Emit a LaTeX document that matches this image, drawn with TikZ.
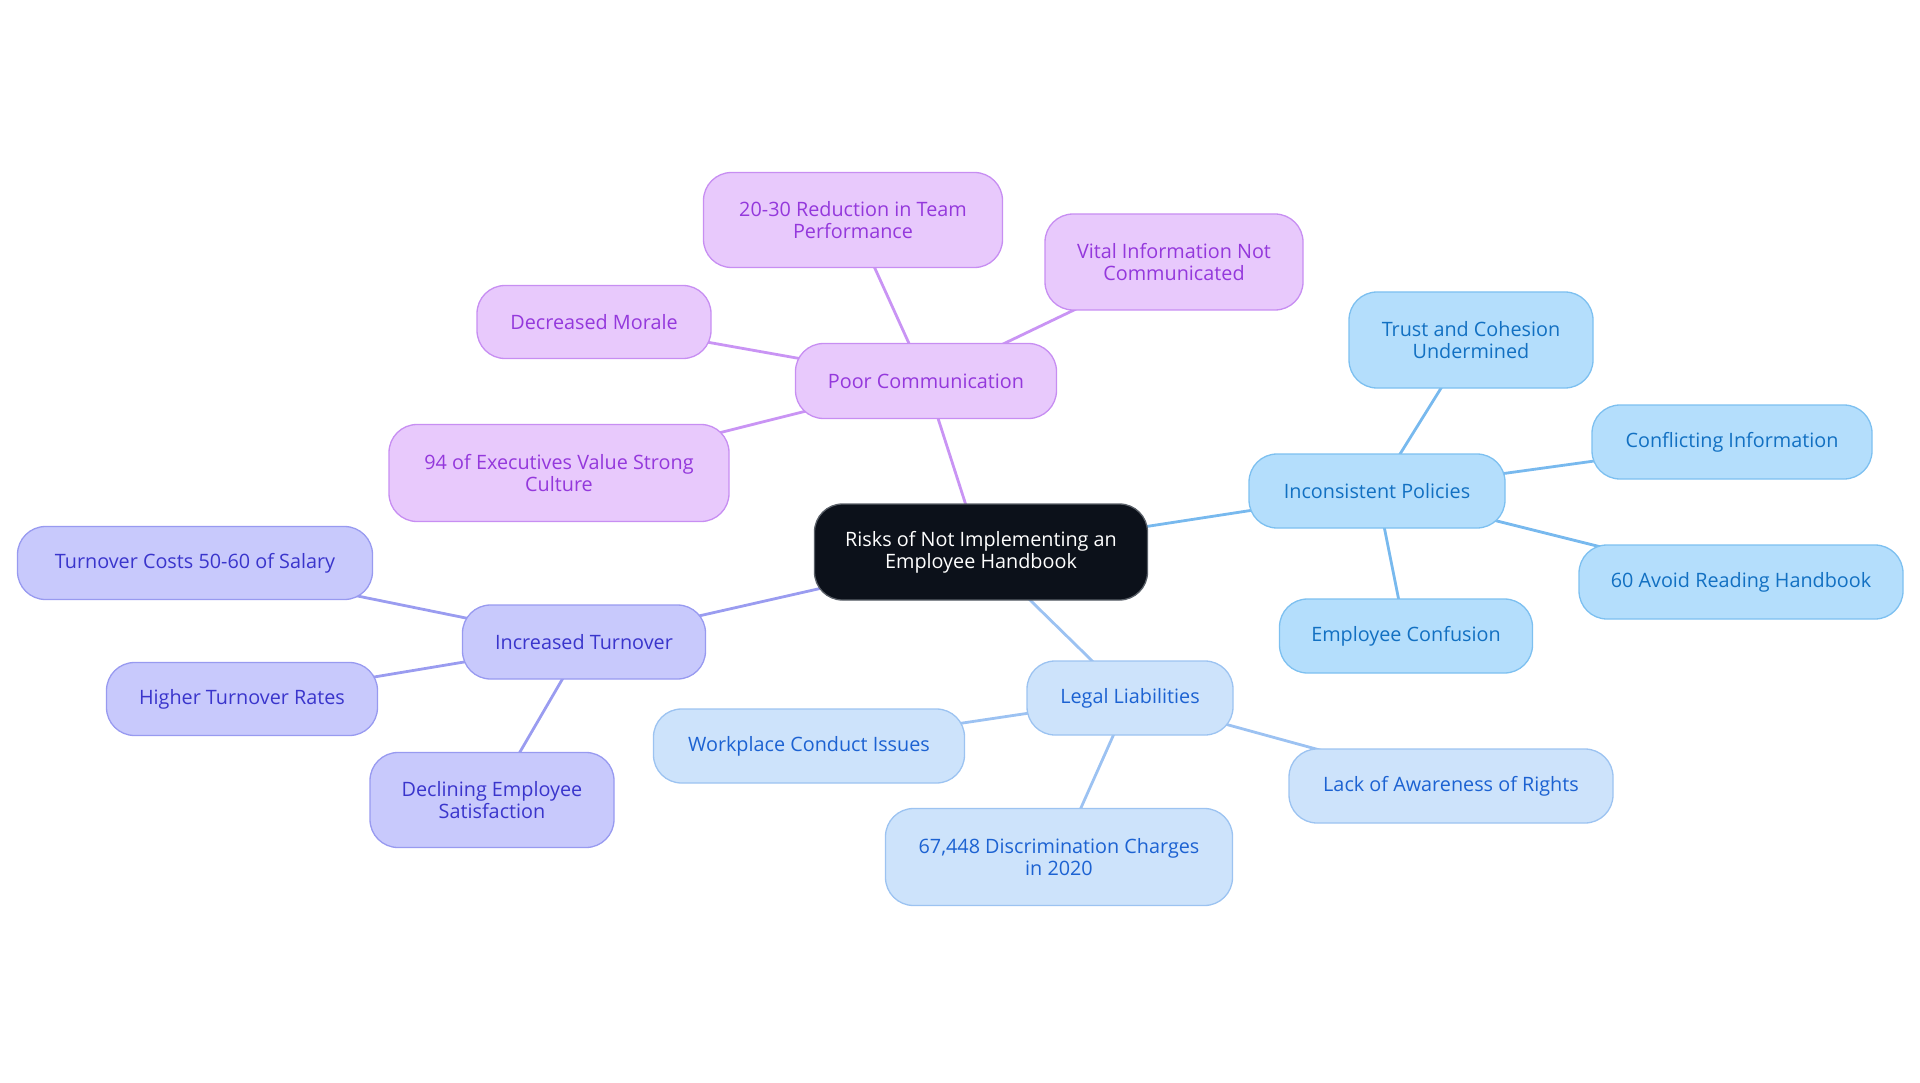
\documentclass[tikz,border=0pt]{standalone}
\usepackage{fontspec}
\setmainfont{Open Sans}
\usetikzlibrary{backgrounds}
\definecolor{rootfill}{HTML}{0C111A}
\definecolor{rootdraw}{HTML}{5A6068}
\definecolor{pfill}{HTML}{E8C9FC}
\definecolor{pdraw}{HTML}{C78EF2}
\definecolor{ptext}{HTML}{9438DC}
\definecolor{pline}{HTML}{C994F4}
\definecolor{ifill}{HTML}{C8C9FC}
\definecolor{idraw}{HTML}{989AF0}
\definecolor{itext}{HTML}{3A35CC}
\definecolor{iline}{HTML}{9A9CF0}
\definecolor{bfill}{HTML}{B4DEFC}
\definecolor{bdraw}{HTML}{7DC0F0}
\definecolor{btext}{HTML}{1270C2}
\definecolor{bline}{HTML}{78B9EE}
\definecolor{lfill}{HTML}{CDE3FB}
\definecolor{ldraw}{HTML}{9CC3F1}
\definecolor{ltext}{HTML}{1C62D2}
\definecolor{lline}{HTML}{9CC2F2}
\tikzset{
  box/.style={rectangle, rounded corners=28pt, inner sep=0pt, align=center, line width=1.3pt,
    font=\fontsize{19.8}{22}\selectfont},
  rootbox/.style={box, fill=rootfill, draw=rootdraw, text=white},
  pbox/.style={box, fill=pfill, draw=pdraw, text=ptext},
  ibox/.style={box, fill=ifill, draw=idraw, text=itext},
  bbox/.style={box, fill=bfill, draw=bdraw, text=btext},
  lbox/.style={box, fill=lfill, draw=ldraw, text=ltext},
  conn/.style={line width=2.8pt},
  sz/.style n args={2}{minimum width=#1pt, minimum height=#2pt}
}
\begin{document}
\begin{tikzpicture}[x=1pt,y=-1pt]
\useasboundingbox (0,0) rectangle (1920,1083);
\node[rootbox, sz={333}{96}] (root) at (981,552) {Risks of Not Implementing an\\Employee Handbook};
% purple
\node[pbox, sz={261}{75}] (pc) at (926,381) {Poor Communication};
\node[pbox, sz={299}{95}] (red) at (853,220) {20-30 Reduction in Team\\Performance};
\node[pbox, sz={258}{96}] (vital) at (1174,262) {Vital Information Not\\Communicated};
\node[pbox, sz={234}{73}] (morale) at (594,322) {Decreased Morale};
\node[pbox, sz={340}{97}] (exec) at (559,473) {94 of Executives Value Strong\\Culture};
% indigo
\node[ibox, sz={243}{74}] (turn) at (584,642) {Increased Turnover};
\node[ibox, sz={355}{73}] (costs) at (195,563) {Turnover Costs 50-60 of Salary};
\node[ibox, sz={271}{73}] (rates) at (242,699) {Higher Turnover Rates};
\node[ibox, sz={244}{95}] (satis) at (492,800) {Declining Employee\\Satisfaction};
% blue
\node[bbox, sz={256}{74}] (incons) at (1377,491) {Inconsistent Policies};
\node[bbox, sz={244}{96}] (trust) at (1471,340) {Trust and Cohesion\\Undermined};
\node[bbox, sz={280}{74}] (confl) at (1732,442) {Conflicting Information};
\node[bbox, sz={324}{74}] (avoid) at (1741,582) {60 Avoid Reading Handbook};
\node[bbox, sz={253}{74}] (confu) at (1406,636) {Employee Confusion};
% legal
\node[lbox, sz={206}{74}] (legal) at (1130,698) {Legal Liabilities};
\node[lbox, sz={311}{74}] (work) at (809,746) {Workplace Conduct Issues};
\node[lbox, sz={324}{74}] (lack) at (1451,786) {Lack of Awareness of Rights};
\node[lbox, sz={347}{97}] (charges) at (1059,857) {67,448 Discrimination Charges\\in 2020};
\begin{pgfonlayer}{background}
\draw[conn, pline] (root.center) -- (pc.center);
\draw[conn, pline] (pc.center) -- (red.center);
\draw[conn, pline] (pc.center) -- (vital.center);
\draw[conn, pline] (pc.center) -- (morale.center);
\draw[conn, pline] (pc.center) -- (exec.center);
\draw[conn, iline] (root.center) -- (turn.center);
\draw[conn, iline] (turn.center) -- (costs.center);
\draw[conn, iline] (turn.center) -- (rates.center);
\draw[conn, iline] (turn.center) -- (satis.center);
\draw[conn, bline] (root.center) -- (incons.center);
\draw[conn, bline] (incons.center) -- (trust.center);
\draw[conn, bline] (incons.center) -- (confl.center);
\draw[conn, bline] (incons.center) -- (avoid.center);
\draw[conn, bline] (incons.center) -- (confu.center);
\draw[conn, lline] (root.center) -- (legal.center);
\draw[conn, lline] (legal.center) -- (work.center);
\draw[conn, lline] (legal.center) -- (lack.center);
\draw[conn, lline] (legal.center) -- (charges.center);
\end{pgfonlayer}
\end{tikzpicture}
\end{document}
